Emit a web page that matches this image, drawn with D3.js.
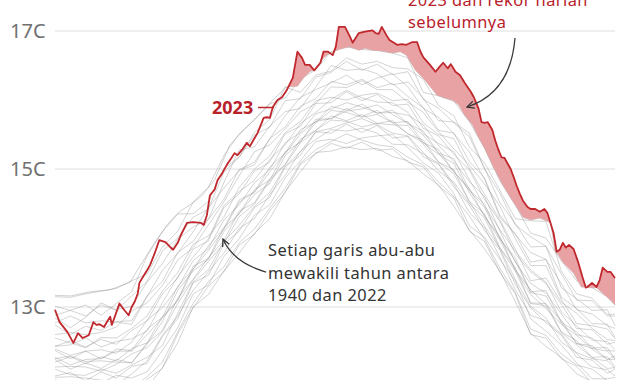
<!DOCTYPE html>
<html><head><meta charset="utf-8">
<script src="https://cdn.jsdelivr.net/npm/d3@7"></script>
<style>body{margin:0;background:#fff}svg{display:block}text{font-family:"Noto Sans",sans-serif}</style>
</head><body>
<svg id="c" width="630" height="380"></svg>
<script>
// ---- data ----
const yTicks = [13, 15, 17];
const tickLabels = ["13C", "15C", "17C"];

// sample days for the 1940-2022 grey lines (day of year)
const sampleDays = [0,10,20,30,40,50,60,70,80,90,100,110,120,130,140,150,160,170,180,190,200,210,220,230,240,250,260,270,280,290,300,310,320,330,340,350,360,365];
// one column per sample day, one value per grey line (°C)
const grayColumns = [
 [11.78,11.82,11.95,11.98,12.10,12.13,12.25,12.27,12.39,12.43,12.55,12.60,12.77,12.84,13.01,13.15],
 [11.72,11.77,11.86,11.99,12.02,12.14,12.29,12.16,12.30,12.45,12.48,12.63,12.87,12.70,12.95,13.14],
 [11.66,11.84,11.80,11.97,12.01,12.13,12.21,12.24,12.36,12.55,12.41,12.60,12.77,12.85,13.03,13.19],
 [11.70,11.75,11.89,11.94,12.10,12.07,12.22,12.25,12.38,12.42,12.56,12.63,12.80,13.06,12.88,13.23],
 [11.68,11.82,12.01,11.87,12.04,12.17,12.20,12.36,12.33,12.50,12.55,12.71,12.78,12.96,13.05,13.27],
 [11.77,11.83,11.97,12.03,12.16,12.32,12.19,12.36,12.49,12.54,12.69,12.94,12.75,13.01,13.22,13.38],
 [11.83,11.99,12.06,12.22,12.27,12.41,12.46,12.60,12.81,12.65,12.87,13.06,13.15,13.36,13.74,13.48],
 [12.12,12.20,12.37,12.59,12.44,12.64,12.79,12.84,12.99,13.06,13.23,13.31,13.53,13.63,14.09,13.87],
 [12.48,12.64,12.70,12.87,12.91,13.05,13.24,13.09,13.28,13.44,13.50,13.68,13.78,13.98,14.35,14.10],
 [13.00,13.05,13.19,13.24,13.36,13.39,13.52,13.55,13.67,13.72,13.91,13.86,14.09,14.16,14.35,14.52],
 [13.18,13.37,13.32,13.51,13.54,13.66,13.69,13.82,13.85,13.99,14.03,14.19,14.44,14.27,14.53,14.74],
 [13.52,13.58,13.73,13.78,13.95,13.92,14.09,14.12,14.26,14.47,14.30,14.52,14.72,14.80,15.01,15.19],
 [13.78,13.93,13.99,14.14,14.18,14.31,14.35,14.52,14.48,14.67,14.73,14.90,14.98,15.28,15.17,15.51],
 [14.07,14.13,14.33,14.28,14.46,14.49,14.63,14.66,14.80,14.84,15.00,15.25,15.06,15.32,15.53,15.71],
 [14.28,14.43,14.48,14.63,14.66,14.83,14.79,14.96,14.99,15.14,15.19,15.35,15.44,15.62,15.72,15.94],
 [14.67,14.72,14.87,14.91,15.04,15.06,15.19,15.22,15.38,15.35,15.53,15.58,15.77,15.83,16.19,16.03],
 [14.96,15.09,15.12,15.26,15.25,15.38,15.40,15.51,15.53,15.66,15.69,15.83,16.04,15.88,16.11,16.30],
 [15.24,15.28,15.40,15.43,15.54,15.56,15.67,15.69,15.80,15.82,15.99,15.95,16.15,16.19,16.36,16.44],
 [15.26,15.40,15.43,15.57,15.59,15.71,15.85,15.73,15.87,16.01,16.04,16.19,16.25,16.50,16.42,16.70],
 [15.32,15.51,15.37,15.55,15.67,15.69,15.82,15.84,15.96,16.14,16.00,16.18,16.36,16.43,16.61,16.77],
 [15.28,15.42,15.45,15.59,15.73,15.61,15.75,15.87,15.90,16.03,16.07,16.28,16.22,16.45,16.52,16.73],
 [15.30,15.35,15.48,15.52,15.64,15.66,15.79,15.93,15.81,15.97,16.10,16.15,16.32,16.38,16.56,16.72],
 [15.18,15.32,15.50,15.36,15.52,15.64,15.67,15.79,15.82,15.96,15.99,16.15,16.38,16.22,16.47,16.68],
 [15.12,15.17,15.31,15.35,15.48,15.63,15.51,15.66,15.78,15.82,16.01,15.97,16.19,16.26,16.45,16.61],
 [14.93,15.06,15.09,15.22,15.24,15.36,15.38,15.49,15.64,15.51,15.67,15.82,15.88,16.03,16.30,16.11],
 [14.77,14.81,14.94,15.08,14.97,15.10,15.21,15.23,15.34,15.37,15.50,15.54,15.75,15.70,15.92,16.06],
 [14.46,14.60,14.64,14.78,14.81,14.93,15.08,14.96,15.11,15.25,15.44,15.29,15.51,15.68,15.77,15.98],
 [14.12,14.32,14.18,14.37,14.50,14.53,14.66,14.69,14.82,14.85,15.01,15.06,15.25,15.52,15.32,15.69],
 [13.84,13.98,14.01,14.15,14.29,14.17,14.32,14.44,14.60,14.46,14.63,14.78,14.85,15.01,15.09,15.30],
 [13.52,13.56,13.69,13.72,13.84,13.85,13.97,13.99,14.10,14.12,14.26,14.46,14.30,14.51,14.69,14.83],
 [13.08,13.21,13.38,13.25,13.40,13.52,13.54,13.67,13.65,13.81,13.84,13.99,14.05,14.21,14.28,14.48],
 [12.62,12.68,12.83,12.88,13.01,13.05,13.18,13.21,13.34,13.54,13.38,13.60,13.79,13.87,14.25,14.07],
 [12.43,12.59,12.65,12.80,12.84,13.02,12.98,13.16,13.20,13.36,13.42,13.60,13.69,13.88,14.24,14.00],
 [12.27,12.32,12.45,12.61,12.49,12.63,12.75,12.77,12.90,12.93,13.07,13.11,13.34,13.28,13.52,13.67],
 [12.03,12.16,12.19,12.32,12.34,12.45,12.59,12.47,12.60,12.73,12.91,12.76,12.96,13.12,13.19,13.38],
 [11.92,12.10,11.96,12.13,12.25,12.27,12.39,12.40,12.55,12.52,12.69,12.73,12.90,12.95,13.13,13.28],
 [11.80,11.93,11.96,12.09,12.22,12.11,12.24,12.36,12.37,12.50,12.53,12.68,12.73,12.96,12.89,13.15],
 [11.82,11.85,11.98,12.00,12.11,12.12,12.24,12.25,12.36,12.38,12.51,12.54,12.69,12.73,12.90,13.03]
];
// more grey years, same sample days
const grayColumnsB = [
 [11.84,12.00,12.24,12.20,12.37,12.43,12.74,12.88],
 [11.71,12.05,12.10,12.28,12.25,12.51,12.60,12.95],
 [11.77,11.93,12.19,12.18,12.36,12.42,12.72,12.87],
 [11.69,12.06,12.11,12.28,12.25,12.53,12.66,13.03],
 [11.80,11.97,12.24,12.22,12.39,12.46,12.79,12.95],
 [11.76,12.14,12.19,12.40,12.37,12.66,12.80,13.16],
 [11.95,12.18,12.48,12.48,12.68,12.80,13.16,13.37],
 [12.11,12.57,12.66,12.86,12.85,13.19,13.37,13.81],
 [12.61,12.83,13.13,13.10,13.30,13.42,13.79,14.00],
 [12.99,13.35,13.40,13.59,13.55,13.84,13.95,14.30],
 [13.30,13.46,13.72,13.70,13.89,13.96,14.27,14.42],
 [13.51,13.91,13.96,14.15,14.14,14.44,14.56,14.95],
 [13.90,14.10,14.39,14.35,14.55,14.64,14.99,15.17],
 [14.05,14.44,14.51,14.70,14.67,14.97,15.10,15.49],
 [14.39,14.59,14.86,14.84,15.03,15.10,15.44,15.61],
 [14.66,15.03,15.07,15.25,15.23,15.51,15.61,15.99],
 [15.07,15.20,15.43,15.39,15.57,15.62,15.91,16.02],
 [15.22,15.54,15.56,15.72,15.68,15.95,16.02,16.33],
 [15.37,15.52,15.77,15.73,15.91,15.96,16.27,16.40],
 [15.30,15.65,15.70,15.88,15.85,16.12,16.22,16.56],
 [15.39,15.53,15.79,15.76,15.94,15.99,16.30,16.43],
 [15.27,15.63,15.66,15.85,15.81,16.08,16.18,16.52],
 [15.29,15.45,15.70,15.67,15.85,15.92,16.24,16.37],
 [15.10,15.47,15.51,15.69,15.66,15.94,16.05,16.41],
 [15.03,15.18,15.42,15.38,15.55,15.59,15.89,16.01],
 [14.75,15.07,15.10,15.28,15.23,15.48,15.56,15.88],
 [14.58,14.74,14.99,14.96,15.15,15.21,15.52,15.67],
 [14.10,14.48,14.53,14.72,14.70,14.99,15.11,15.47],
 [13.95,14.11,14.35,14.31,14.49,14.56,14.87,15.00],
 [13.50,13.82,13.86,14.02,13.99,14.24,14.33,14.65],
 [13.19,13.33,13.57,13.54,13.71,13.77,14.06,14.19],
 [12.60,12.99,13.06,13.25,13.22,13.51,13.65,14.02],
 [12.55,12.77,13.05,13.04,13.24,13.34,13.69,13.88],
 [12.25,12.59,12.64,12.81,12.78,13.04,13.14,13.48],
 [12.14,12.27,12.51,12.47,12.64,12.69,12.98,13.10],
 [11.90,12.23,12.27,12.44,12.41,12.67,12.76,13.09],
 [11.91,12.04,12.28,12.24,12.41,12.46,12.75,12.87],
 [11.80,12.10,12.13,12.29,12.25,12.49,12.56,12.87]
];

// previous daily record (1940-2022 maximum)
const recordDays  = [0,10,23,36,49,55,64,73,81,90,96,104,114,125,134,142,151,158,162,166,169,171,175,179,186,192,198,202,207,213,220,225,229,235,241,249,254,259,263,267,272,276,280,285,291,297,302,305,310,316,323,326,331,338,343,349,353,357,362,365];
const recordTemps = [13.17,13.16,13.22,13.25,13.36,13.58,13.90,14.19,14.38,14.51,14.62,14.84,15.35,15.61,15.81,16.00,16.19,16.20,16.32,16.41,16.44,16.49,16.61,16.68,16.74,16.77,16.72,16.75,16.72,16.71,16.68,16.70,16.65,16.43,16.29,16.07,16.03,16.00,15.93,15.78,15.64,15.46,15.30,15.06,14.80,14.58,14.41,14.30,14.26,14.29,14.22,13.83,13.65,13.49,13.29,13.28,13.28,13.20,13.10,13.03];

// 2023
const days2023  = [0,3,8,12,15,18,22,25,27,29,32,34,36,37,39,42,45,48,50,52,54,55,58,61,62,65,68,72,75,77,80,82,86,90,95,97,99,101,104,106,109,112,115,117,119,122,125,127,132,136,138,140,142,145,148,151,155,158,161,163,166,169,173,175,178,181,183,185,189,192,194,198,202,207,209,211,213,216,218,223,226,229,233,236,238,240,244,248,251,253,256,258,261,264,267,271,273,276,278,280,282,285,287,289,291,293,297,299,301,303,305,308,310,313,316,319,321,325,327,329,331,333,335,338,341,344,346,347,350,353,355,357,360,362,365];
const temps2023 = [12.96,12.78,12.64,12.48,12.62,12.55,12.59,12.78,12.74,12.75,12.71,12.79,12.86,12.74,12.86,13.05,12.96,12.88,13.00,13.08,13.20,13.35,13.46,13.57,13.61,13.78,13.97,13.94,13.87,13.83,13.93,14.04,14.22,14.23,14.22,14.19,14.33,14.62,14.70,14.84,14.94,15.06,15.16,15.23,15.20,15.28,15.38,15.33,15.52,15.74,15.75,15.74,15.90,16.00,16.04,16.14,16.32,16.70,16.61,16.51,16.51,16.43,16.54,16.70,16.70,16.65,16.77,17.06,17.06,16.93,16.83,16.97,16.99,17.01,16.97,16.96,17.06,16.94,16.87,16.80,16.81,16.80,16.84,16.84,16.71,16.62,16.52,16.41,16.49,16.54,16.46,16.52,16.41,16.36,16.25,16.12,16.04,15.88,15.68,15.67,15.68,15.57,15.41,15.28,15.17,15.16,15.00,14.88,14.75,14.64,14.54,14.45,14.42,14.42,14.38,14.42,14.36,14.07,13.80,13.83,13.93,13.86,13.90,13.84,13.65,13.42,13.28,13.29,13.35,13.29,13.39,13.57,13.51,13.51,13.42];

const annotRed  = ["2023 dan rekor harian", "sebelumnya"];
const annotGray = ["Setiap garis abu-abu", "mewakili tahun antara", "1940 dan 2022"];

// ---- drawing ----
if (days2023.length !== temps2023.length) throw new Error("2023 length mismatch " + days2023.length + " " + temps2023.length);
if (recordDays.length !== recordTemps.length) throw new Error("record length mismatch");
grayColumns.forEach((c,i)=>{ if (c.length !== 16) throw new Error("col " + i + " len " + c.length); });
grayColumnsB.forEach((c,i)=>{ if (c.length !== 8) throw new Error("colB " + i + " len " + c.length); });
if (grayColumns.length !== sampleDays.length || grayColumnsB.length !== sampleDays.length) throw new Error("cols");

const svg = d3.select("#c");
const x = d3.scaleLinear().domain([0, 365]).range([55, 615]);
const y = d3.scaleLinear().domain([13, 17]).range([307, 31]);

// grid
svg.append("g").selectAll("line").data(yTicks).join("line")
  .attr("x1", 55).attr("x2", 615)
  .attr("y1", d => y(d)).attr("y2", d => y(d))
  .attr("stroke", "#dedede").attr("stroke-width", 1);
svg.append("g").selectAll("text").data(yTicks).join("text")
  .attr("x", 10).attr("y", d => y(d)).attr("dy", "0.36em")
  .attr("font-size", 20).attr("fill", "#707070")
  .text((d, i) => tickLabels[i]);

// grey lines
const grayLines = d3.transpose(grayColumns).concat(d3.transpose(grayColumnsB));
const gLine = d3.line().x((d, i) => x(sampleDays[i])).y(d => y(d));
svg.append("g").selectAll("path").data(grayLines).join("path")
  .attr("d", gLine).attr("fill", "none")
  .attr("stroke", "#808080").attr("stroke-opacity", 0.38).attr("stroke-width", 0.9)
  .attr("stroke-linejoin", "round");
const rec = recordDays.map((d, i) => [d, recordTemps[i]]);
svg.append("path").datum(rec)
  .attr("d", d3.line().x(d => x(d[0])).y(d => y(d[1])))
  .attr("fill", "none").attr("stroke", "#8a8a8a").attr("stroke-opacity", 0.45).attr("stroke-width", 0.9);

// shading between 2023 and previous record
const defs = svg.append("defs");
defs.append("clipPath").attr("id", "aboveRec").append("path").datum(rec)
  .attr("d", d3.area().x(d => x(d[0])).y0(-20).y1(d => y(d[1])));
const s23 = days2023.map((d, i) => [d, temps2023[i]]);
svg.append("path").datum(s23)
  .attr("clip-path", "url(#aboveRec)")
  .attr("d", d3.area().x(d => x(d[0])).y0(420).y1(d => y(d[1])))
  .attr("fill", "#e9a2a4");

// 2023 line
svg.append("path").datum(s23)
  .attr("d", d3.line().x(d => x(d[0])).y(d => y(d[1])))
  .attr("fill", "none").attr("stroke", "#c0282d").attr("stroke-width", 1.8)
  .attr("stroke-linejoin", "round");

// labels
svg.append("text").attr("x", 212).attr("y", 114).attr("font-size", 18).attr("font-weight", 700)
  .attr("fill", "#b8202a").text("2023");
svg.append("line").attr("x1", 258).attr("x2", 274).attr("y1", 107.5).attr("y2", 107.5)
  .attr("stroke", "#c0282d").attr("stroke-width", 1.5);

svg.append("g").selectAll("text").data(annotRed).join("text")
  .attr("x", 408).attr("y", (d, i) => 5.8 + i * 22.5)
  .attr("font-size", 16.4).attr("letter-spacing", 0.45).attr("fill", "#b8202a").text(d => d);
svg.append("g").selectAll("text").data(annotGray).join("text")
  .attr("x", 268).attr("y", (d, i) => 256 + i * 22.5)
  .attr("font-size", 16.4).attr("letter-spacing", 0.45).attr("fill", "#333").text(d => d);

// arrows
defs.append("marker").attr("id", "arr").attr("viewBox", "0 0 10 10")
  .attr("refX", 9).attr("refY", 5).attr("markerWidth", 9).attr("markerHeight", 9)
  .attr("markerUnits", "userSpaceOnUse").attr("orient", "auto")
  .append("path").attr("d", "M1,1 L9,5 L1,9").attr("fill", "none")
  .attr("stroke", "#333").attr("stroke-width", 1.4);
svg.append("path").attr("d", "M515,38 C512,75 495,98 467,107")
  .attr("fill", "none").attr("stroke", "#3a3a3a").attr("stroke-width", 1.3).attr("marker-end", "url(#arr)");
svg.append("path").attr("d", "M266,272 C245,266 230,255 223,239")
  .attr("fill", "none").attr("stroke", "#3a3a3a").attr("stroke-width", 1.3).attr("marker-end", "url(#arr)");
</script>
</body></html>
